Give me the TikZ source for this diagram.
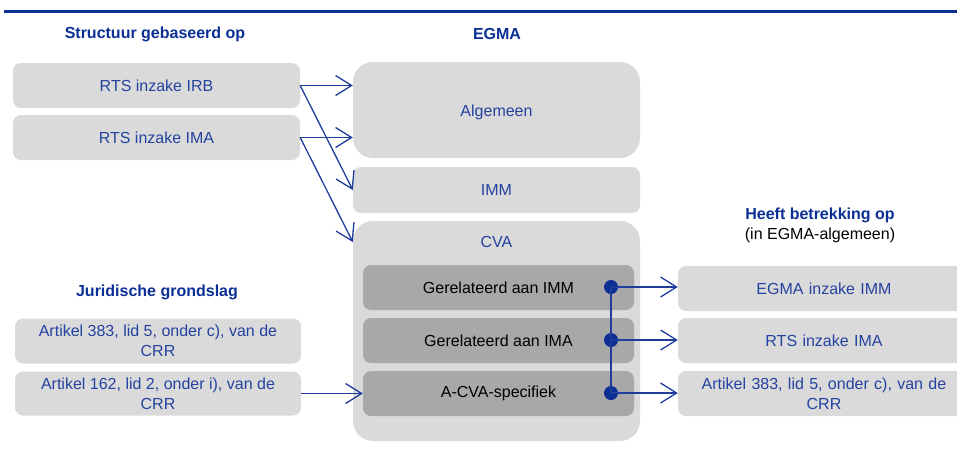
\documentclass[tikz,border=0pt]{standalone}
\usepackage{fontspec}
\setmainfont{Liberation Sans}
\usetikzlibrary{arrows.meta,calc}
\definecolor{hblue}{HTML}{0B2F94}
\definecolor{tblue}{HTML}{2443A0}
\definecolor{ablue}{HTML}{1E3C9C}
\definecolor{lgrey}{HTML}{DADADA}
\definecolor{dgrey}{HTML}{A8A8A8}
\tikzset{
  lbox/.style={fill=lgrey,draw=none,rounded corners=8pt,text=tblue,align=center,inner sep=0pt,font=\fontsize{16}{20}\selectfont},
  dbox/.style={fill=dgrey,draw=none,rounded corners=8pt,text=black,align=center,inner sep=0pt,font=\fontsize{16}{20}\selectfont},
  head/.style={text=hblue,font=\bfseries\fontsize{16}{19}\selectfont,inner sep=0pt},
  plain/.style={text=tblue,font=\fontsize{16}{19}\selectfont,inner sep=0pt},
  arr/.style={draw=ablue,line width=1.3pt,-{Straight Barb[length=16pt,width=20pt,line width=1.3pt]}},
  conn/.style={draw=ablue,line width=1.3pt},
  dot/.style={circle,fill=hblue,draw=none,minimum size=14pt,inner sep=0pt}
}
\begin{document}
\begin{tikzpicture}[x=1pt,y=-1pt]
\useasboundingbox (0,0) rectangle (957,448);
% top rule
\coordinate (rl) at (4,11);
\coordinate (rr) at (957,11);
\draw[draw=hblue,line width=3pt] (rl) -- (rr);
% headings
\node[head] (h1) at (155,34) {Structuur gebaseerd op};
\node[head] (h2) at (497,34) {EGMA};
\node[head] (h3) at (157,292) {Juridische grondslag};
\node[head] (h4) at (820,215) {Heeft betrekking op};
\node[text=black,font=\fontsize{16}{19}\selectfont,inner sep=0pt] (h5) at (820,235) {(in EGMA-algemeen)};
% left boxes
\node[lbox,minimum width=287pt,minimum height=45pt] (irb) at (156.5,85.5) {RTS inzake IRB};
\node[lbox,minimum width=287pt,minimum height=45pt] (ima) at (156.5,137.5) {RTS inzake IMA};
\node[lbox,minimum width=286pt,minimum height=45pt] (a383) at (158,341) {Artikel 383, lid 5, onder c), van de\\CRR};
\node[lbox,minimum width=286pt,minimum height=44pt] (a162) at (158,393.5) {Artikel 162, lid 2, onder i), van de\\CRR};
% EGMA column
\node[lbox,rounded corners=20pt,minimum width=287pt,minimum height=96pt] (alg) at (496.5,110) {};
\node[plain] (algt) at (496.5,112) {Algemeen};
\node[lbox,minimum width=287pt,minimum height=46pt] (imm) at (496.5,190) {IMM};
\node[fill=lgrey,draw=none,rounded corners=20pt,minimum width=287pt,minimum height=220pt,inner sep=0pt] (cvabox) at (496.5,331) {};
\node[plain] (cva) at (496.5,242) {CVA};
\node[dbox,minimum width=271pt,minimum height=45pt] (g1) at (498.5,287.5) {Gerelateerd aan IMM};
\node[dbox,minimum width=271pt,minimum height=45pt] (g2) at (498.5,340.5) {Gerelateerd aan IMA};
\node[dbox,minimum width=271pt,minimum height=45pt] (g3) at (498.5,393.5) {A-CVA-specifiek};
% right boxes
\node[lbox,minimum width=292pt,minimum height=45pt,text width=280pt] (r1) at (824,288.5) {EGMA inzake IMM};
\node[lbox,minimum width=292pt,minimum height=45pt,text width=280pt] (r2) at (824,340.5) {RTS inzake IMA};
\node[lbox,minimum width=292pt,minimum height=45pt,text width=280pt] (r3) at (824,393.5) {Artikel 383, lid 5, onder c), van de\\CRR};
% left arrows
\draw[arr] (irb.east) -- (irb.east -| alg.west);
\draw[arr] (ima.east) -- (ima.east -| alg.west);
\draw[arr] (irb.east) -- (imm.west);
\draw[arr] (ima.east) -- (cva -| cvabox.west);
\draw[arr] (a162.east) -- (g3.west);
% right connectors
\node[dot] (d1) at (611,287) {};
\node[dot] (d2) at (611,340) {};
\node[dot] (d3) at (611,393) {};
\draw[conn] (d1.center) -- (d3.center);
\draw[arr] (d1.center) -- (d1 -| r1.west);
\draw[arr] (d2.center) -- (d2 -| r2.west);
\draw[arr] (d3.center) -- (d3 -| r3.west);
\end{tikzpicture}
\end{document}
